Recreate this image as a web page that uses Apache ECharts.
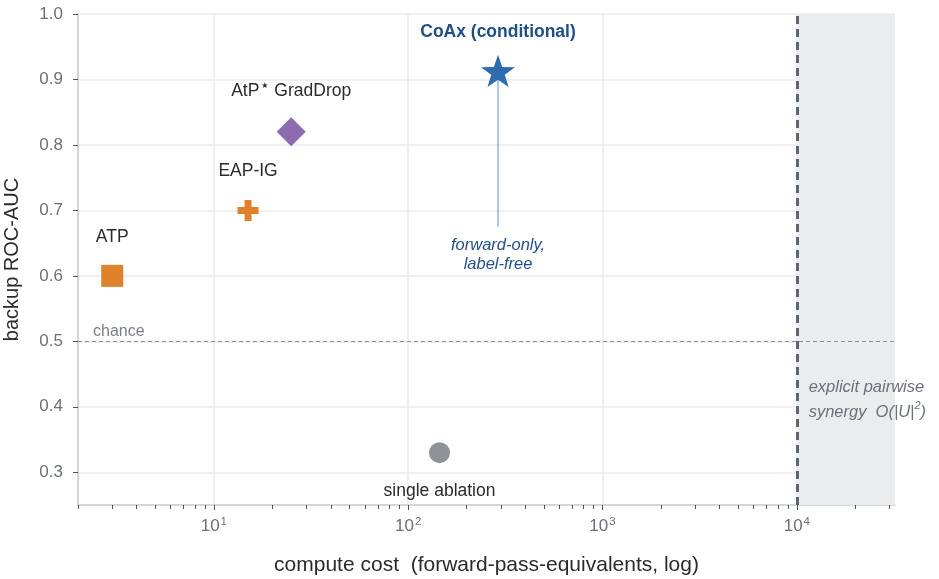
<!DOCTYPE html>
<html>
<head>
<meta charset="utf-8">
<script src="https://cdn.jsdelivr.net/npm/echarts@6/dist/echarts.min.js"></script>
<style>
  html, body { margin: 0; padding: 0; background: #fff; }
  #chart { width: 939px; height: 579px; }
</style>
</head>
<body>
<div id="chart"></div>
<script>
// ---- data ----
var methodNames = ["ATP", "EAP-IG", "AtP* GradDrop", "CoAx (conditional)", "single ablation"];
var computeCost = [3, 15, 25, 290, 145];
var backupAuc = [0.60, 0.70, 0.82, 0.913, 0.33];

var chanceLevel = 0.5;
var pairwiseCost = 10000;          // explicit pairwise synergy region starts here
var calloutEndAuc = 0.675;         // CoAx callout line stops here
var pairwiseNoteAt = [11500, 0.41];

var xMin = 2, xMax = 32000;
var yMin = 0.25, yMax = 1.0;
var yTicks = [0.3, 0.4, 0.5, 0.6, 0.7, 0.8, 0.9, 1.0];
var xMajorTicks = [10, 100, 1000, 10000];
var xMinorTicks = [2, 3, 4, 5, 6, 7, 8, 9,
  20, 30, 40, 50, 60, 70, 80, 90,
  200, 300, 400, 500, 600, 700, 800, 900,
  2000, 3000, 4000, 5000, 6000, 7000, 8000, 9000,
  20000, 30000];

// ---- styles ----
var FONT = "'Liberation Sans', Arial, Helvetica, sans-serif";
var TICK_COLOR = "#6b7079";
var TEXT_DARK = "#2b2b2b";

function starPath() {
  var pts = [];
  for (var i = 0; i < 10; i++) {
    var r = i % 2 ? 0.40 : 1;
    var a = -Math.PI / 2 + i * Math.PI / 5;
    pts.push((r * Math.cos(a)).toFixed(4) + "," + (r * Math.sin(a)).toFixed(4));
  }
  return "path://M" + pts.join("L") + "Z";
}
var plusPath = "path://M7,0H14V7H21V14H14V21H7V14H0V7H7Z";

var markerStyle = [
  { symbol: "rect", size: 22, color: "#e0812c", dy: -39 },
  { symbol: plusPath, size: 21, color: "#e0812c", dy: -39 },
  { symbol: "diamond", size: 29, color: "#8d6bb1", dy: -41 },
  { symbol: starPath(), size: 34, color: "#2e6cad", dy: -39 },
  { symbol: "circle", size: 21, color: "#8e9297", dy: 39 }
];

var methodData = methodNames.map(function (name, i) {
  var st = markerStyle[i];
  var lbl = {
    show: true, position: "inside", offset: [0, st.dy],
    color: TEXT_DARK, fontSize: 17.5, fontFamily: FONT,
    formatter: name
  };
  if (name === "AtP* GradDrop") {
    lbl.formatter = "AtP{s|\u2605} GradDrop";
    lbl.rich = { s: { fontSize: 8, fontFamily: "'DejaVu Sans'", color: TEXT_DARK, verticalAlign: "top", padding: [0, 1, 7, 2] } };
  }
  if (i === 3) {
    lbl.color = "#1f4e85";
    lbl.fontWeight = "bold";
  }
  return {
    name: name,
    value: [computeCost[i], backupAuc[i]],
    symbol: st.symbol,
    symbolSize: st.size,
    symbolKeepAspect: true,
    itemStyle: { color: st.color, opacity: 1 },
    label: lbl
  };
});

var chart = echarts.init(document.getElementById("chart"));
var option = {
  animation: false,
  textStyle: { fontFamily: FONT },
  grid: { left: 78, right: 44, top: 14, bottom: 74, outerBoundsMode: "none", containLabel: false },
  xAxis: [
    {
      type: "log", min: xMin, max: xMax,
      name: "compute cost  (forward-pass-equivalents, log)",
      nameLocation: "middle", nameGap: 50,
      nameTextStyle: { fontSize: 21, color: TEXT_DARK, fontFamily: FONT },
      axisLine: { show: true, lineStyle: { color: "#c5c9ce", width: 1.5 } },
      axisTick: { show: true, length: 5, lineStyle: { color: "#50555c", width: 1 }, customValues: xMajorTicks },
      axisLabel: {
        color: TICK_COLOR, fontSize: 17, margin: 11, customValues: xMajorTicks,
        formatter: function (v) {
          var e = Math.round(Math.log10(v));
          return "10{sup|" + e + "}";
        },
        rich: { sup: { fontSize: 11.5, color: TICK_COLOR, verticalAlign: "top", padding: [0, 0, 8, 1] } }
      },
      splitLine: { show: true, lineStyle: { color: "#ebebee", width: 1.5 } }
    },
    {
      type: "log", min: xMin, max: xMax, position: "bottom",
      axisLine: { show: false },
      axisTick: { show: true, length: 4, lineStyle: { color: "#50555c", width: 1 }, customValues: xMinorTicks },
      axisLabel: { show: false },
      splitLine: { show: false }
    }
  ],
  yAxis: {
    type: "value", min: yMin, max: yMax,
    name: "backup ROC-AUC", nameLocation: "middle", nameGap: 56,
    nameTextStyle: { fontSize: 20, color: TEXT_DARK, fontFamily: FONT },
    axisLine: { show: true, lineStyle: { color: "#c5c9ce", width: 1.5 } },
    axisTick: { show: true, length: 5, lineStyle: { color: "#50555c", width: 1 }, customValues: yTicks },
    axisLabel: {
      color: TICK_COLOR, fontSize: 17, margin: 15, customValues: yTicks,
      formatter: function (v) { return v.toFixed(1); }
    },
    splitLine: { show: true, lineStyle: { color: "#ebebee", width: 1.5 } }
  },
  series: [
    {
      // shaded pairwise-synergy region
      type: "scatter", z: 1, data: [], silent: true,
      markArea: {
        silent: true,
        itemStyle: { color: "#ebecee" },
        data: [[{ xAxis: pairwiseCost }, { xAxis: xMax }]]
      }
    },
    {
      // reference lines
      type: "scatter", z: 3, data: [], silent: true,
      markLine: {
        silent: true, symbol: "none",
        data: [
          {
            yAxis: chanceLevel,
            lineStyle: { color: "#8c9198", type: [4, 3], width: 1 },
            label: {
              show: true, position: "insideStartTop", formatter: "chance",
              color: "#7a7f86", fontSize: 16, distance: [15, 2]
            }
          },
          {
            xAxis: pairwiseCost,
            lineStyle: { color: "#5f6670", type: [8, 5], width: 3 },
            label: { show: false }
          }
        ]
      }
    },
    {
      // pairwise note
      type: "scatter", z: 4, silent: true, symbolSize: 0,
      itemStyle: { opacity: 1 },
      data: [pairwiseNoteAt],
      label: {
        show: true, position: "right", distance: 0,
        formatter: "explicit pairwise\nsynergy  O(|U|{s|2})",
        color: "#6b7079", fontSize: 16.5, fontStyle: "italic", lineHeight: 25,
        rich: { s: { fontSize: 11, fontStyle: "italic", color: "#6b7079", verticalAlign: "top", padding: [0, 0, 4, 0] } }
      }
    },
    {
      // CoAx callout line
      type: "line", z: 4, silent: true, symbol: "none",
      itemStyle: { color: "#5b8fd0" },
      lineStyle: { color: "#5b8fd0", width: 1 },
      data: [[computeCost[3], backupAuc[3]], [computeCost[3], calloutEndAuc]]
    },
    {
      // CoAx callout text
      type: "scatter", z: 4, silent: true, symbolSize: 0,
      itemStyle: { opacity: 1 },
      data: [[computeCost[3], calloutEndAuc]],
      label: {
        show: true, position: "bottom", distance: 9,
        formatter: "forward-only,\nlabel-free",
        color: "#22518a", fontSize: 16.5, fontStyle: "italic", lineHeight: 19,
        align: "center"
      }
    },
    {
      type: "scatter", z: 5, data: methodData
    }
  ]
};
chart.setOption(option);
</script>
</body>
</html>
